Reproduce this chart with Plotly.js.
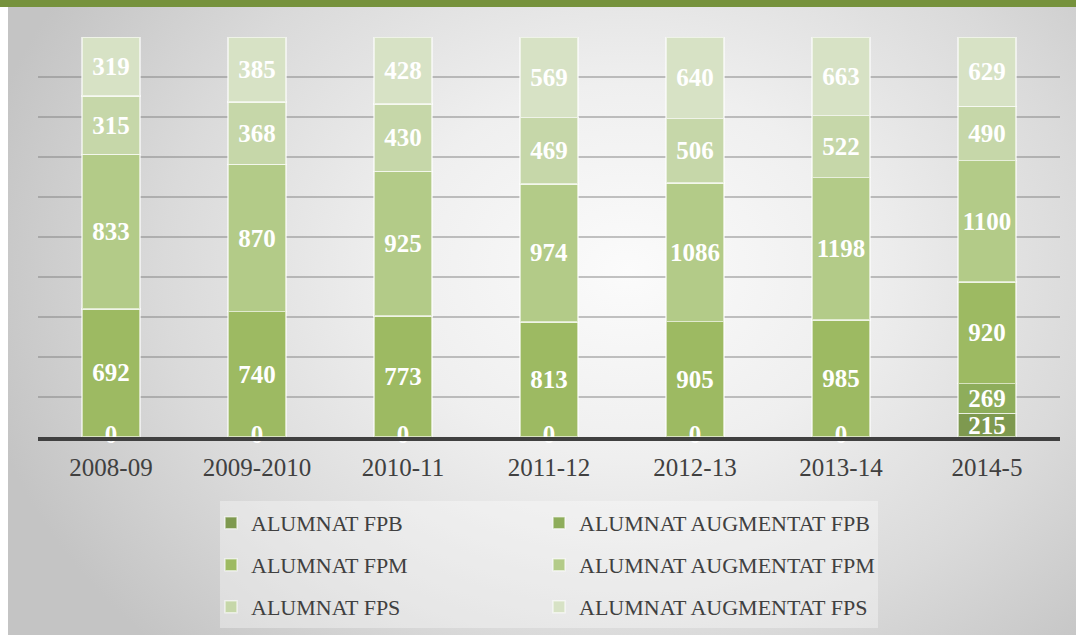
<!DOCTYPE html>
<html>
<head>
<meta charset="utf-8">
<script src="https://cdn.plot.ly/plotly-3.0.1.min.js"></script>
<style>
  html, body { margin: 0; padding: 0; background: #ffffff; }
  #wrap { position: relative; width: 1076px; height: 635px; overflow: hidden; background: #ffffff; }
  #stripe { position: absolute; left: 0; top: 0; width: 1076px; height: 7px; background: #76923c; }
  #bg { position: absolute; left: 8px; top: 7px; right: 0; bottom: 0;
        background: radial-gradient(ellipse 62% 85% at 58% 42%, #fbfbfb 0%, #efefef 35%, #dadada 70%, #c4c4c4 100%); }
  #chart { position: absolute; left: 0; top: 0; width: 1076px; height: 635px; }
</style>
</head>
<body>
<div id="wrap">
  <div id="bg"></div>
  <div id="stripe"></div>
  <div id="chart"></div>
</div>
<script>
// ---- data ----
const categories = ['2008-09', '2009-2010', '2010-11', '2011-12', '2012-13', '2013-14', '2014-5'];
const alumnatFPB    = [0, 0, 0, 0, 0, 0, 215];
const augmentatFPB  = [null, null, null, null, null, null, 269];
const alumnatFPM    = [692, 740, 773, 813, 905, 985, 920];
const augmentatFPM  = [833, 870, 925, 974, 1086, 1198, 1100];
const alumnatFPS    = [315, 368, 430, 469, 506, 522, 490];
const augmentatFPS  = [319, 385, 428, 569, 640, 663, 629];
const seriesNames = ['ALUMNAT FPB', 'ALUMNAT AUGMENTAT FPB', 'ALUMNAT FPM',
                     'ALUMNAT AUGMENTAT FPM', 'ALUMNAT FPS', 'ALUMNAT AUGMENTAT FPS'];

// ---- styles ----
const seriesValues = [alumnatFPB, augmentatFPB, alumnatFPM, augmentatFPM, alumnatFPS, augmentatFPS];
const colors = ['#7e994f', '#8ead5b', '#9dba62', '#b3cb88', '#c6d7a9', '#d7e2c5'];
const labelFont = { family: 'Liberation Serif, serif', size: 25, color: '#ffffff', weight: 'bold' };

const W = 1076, H = 635;
const plotL = 38, plotR = 1060, plotT = 37, plotB = 437;
const pw = plotR - plotL, ph = plotB - plotT;
const px2x = p => (p - plotL) / pw;
const py2y = p => (plotB - p) / ph;
const legendCols = [211, 539];
const legendRows = [523, 565, 607];

const traces = seriesValues.map((vals, i) => ({
  type: 'bar',
  name: seriesNames[i],
  x: categories,
  y: vals,
  text: vals.map(v => (v ? String(v) : '')),
  textposition: 'inside',
  insidetextanchor: 'middle',
  textangle: 0,
  constraintext: 'none',
  cliponaxis: false,
  textfont: labelFont,
  marker: { color: colors[i], line: { color: 'rgba(255,255,255,0.6)', width: 1.5 } },
  legend: i === 0 ? 'legend' : 'legend' + (i + 1),
  hoverinfo: 'x+y+name'
}));

// zero-valued labels sit on the axis
const zeroCats = categories.filter((c, k) => alumnatFPB[k] === 0);
traces.push({
  type: 'scatter',
  mode: 'text',
  x: zeroCats,
  y: zeroCats.map(() => 0),
  text: zeroCats.map(() => '0'),
  textposition: 'middle center',
  textfont: labelFont,
  cliponaxis: false,
  showlegend: false,
  hoverinfo: 'skip'
});

const layout = {
  width: W,
  height: H,
  margin: { l: plotL, r: W - plotR, t: plotT, b: H - plotB },
  paper_bgcolor: 'rgba(0,0,0,0)',
  plot_bgcolor: 'rgba(0,0,0,0)',
  barmode: 'stack',
  barnorm: 'percent',
  bargap: 0.6,
  font: { family: 'Liberation Serif, serif', color: '#404040' },
  xaxis: {
    type: 'category',
    showgrid: false,
    showline: true,
    linecolor: '#404040',
    linewidth: 4,
    ticks: '',
    ticklabelstandoff: 5,
    tickfont: { family: 'Liberation Serif, serif', size: 25, color: '#404040' },
    fixedrange: true
  },
  yaxis: {
    range: [0, 100.001],
    tickvals: [0, 10, 20, 30, 40, 50, 60, 70, 80, 90, 100],
    showticklabels: false,
    ticks: '',
    showgrid: true,
    gridcolor: 'rgba(125,125,125,0.45)',
    gridwidth: 2,
    zeroline: false,
    showline: false,
    fixedrange: true
  },
  shapes: [{
    type: 'rect', xref: 'paper', yref: 'paper', layer: 'below',
    x0: px2x(220), x1: px2x(878), y0: py2y(628), y1: py2y(501),
    fillcolor: 'rgba(255,255,255,0.35)', line: { width: 0 }
  }],
  showlegend: true
};

seriesNames.forEach((n, i) => {
  const key = i === 0 ? 'legend' : 'legend' + (i + 1);
  layout[key] = {
    xref: 'container',
    yref: 'container',
    x: legendCols[i % 2] / W,
    y: 1 - legendRows[Math.floor(i / 2)] / H,
    xanchor: 'left',
    yanchor: 'middle',
    orientation: 'h',
    bgcolor: 'rgba(0,0,0,0)',
    borderwidth: 0,
    font: { family: 'Liberation Serif, serif', size: 22, color: '#404040' }
  };
});

Plotly.newPlot('chart', traces, layout, { displayModeBar: false, staticPlot: true });
</script>
</body>
</html>
